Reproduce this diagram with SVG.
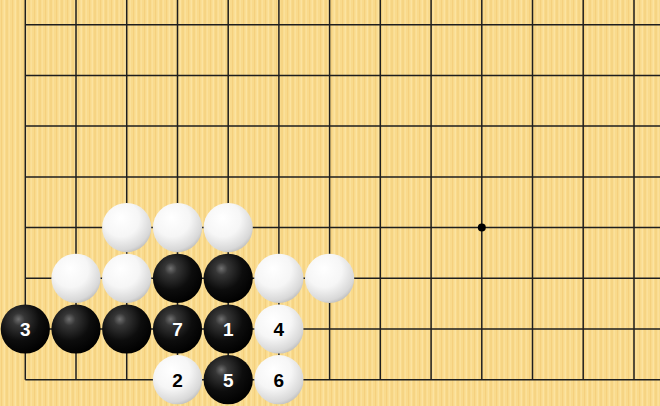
<svg xmlns="http://www.w3.org/2000/svg" width="660" height="406" viewBox="0 0 660 406">
<defs>
<pattern id="wood" x="0" y="0" width="11" height="406" patternUnits="userSpaceOnUse">
<rect width="11" height="406" fill="#F9DA8C"/>
<rect x="1" width="1" height="406" fill="#F5D07E"/>
<rect x="3.5" width="1.5" height="406" fill="#FCE3A0"/>
<rect x="6.5" width="1" height="406" fill="#F4CE7A"/>
<rect x="8.5" width="1.5" height="406" fill="#FBE09A"/>
</pattern>
<radialGradient id="gb" cx="0.38" cy="0.33" r="0.7" fx="0.36" fy="0.3">
<stop offset="0" stop-color="#707070"/>
<stop offset="0.18" stop-color="#363636"/>
<stop offset="0.6" stop-color="#0d0d0d"/>
<stop offset="1" stop-color="#000"/>
</radialGradient>
<radialGradient id="gw" cx="0.4" cy="0.35" r="0.72" fx="0.38" fy="0.3">
<stop offset="0" stop-color="#ffffff"/>
<stop offset="0.5" stop-color="#f6f6f6"/>
<stop offset="0.85" stop-color="#d8d8d8"/>
<stop offset="1" stop-color="#b4b4b4"/>
</radialGradient>
</defs>
<style>
.g line{stroke:#1e1e1e;stroke-width:1.5}
.b{fill:url(#gb)}
.w{fill:url(#gw)}
.t{font-family:"Liberation Sans",Arial,sans-serif;font-weight:bold;font-size:19px;text-anchor:middle}
.tb{fill:#fff}
.tw{fill:#000}
</style>
<rect width="660" height="406" fill="url(#wood)"/>
<g id="grid" class="g">
<line x1="25.3" y1="0" x2="25.3" y2="379.7"/>
<line x1="76" y1="0" x2="76" y2="379.7"/>
<line x1="126.7" y1="0" x2="126.7" y2="379.7"/>
<line x1="177.5" y1="0" x2="177.5" y2="379.7"/>
<line x1="228.2" y1="0" x2="228.2" y2="379.7"/>
<line x1="278.9" y1="0" x2="278.9" y2="379.7"/>
<line x1="329.6" y1="0" x2="329.6" y2="379.7"/>
<line x1="380.3" y1="0" x2="380.3" y2="379.7"/>
<line x1="431.1" y1="0" x2="431.1" y2="379.7"/>
<line x1="481.8" y1="0" x2="481.8" y2="379.7"/>
<line x1="532.5" y1="0" x2="532.5" y2="379.7"/>
<line x1="583.2" y1="0" x2="583.2" y2="379.7"/>
<line x1="634" y1="0" x2="634" y2="379.7"/>
<line x1="25.3" y1="24.7" x2="660" y2="24.7"/>
<line x1="25.3" y1="75.4" x2="660" y2="75.4"/>
<line x1="25.3" y1="126.1" x2="660" y2="126.1"/>
<line x1="25.3" y1="176.9" x2="660" y2="176.9"/>
<line x1="25.3" y1="227.6" x2="660" y2="227.6"/>
<line x1="25.3" y1="278.3" x2="660" y2="278.3"/>
<line x1="25.3" y1="329" x2="660" y2="329"/>
<line x1="25.3" y1="379.7" x2="660" y2="379.7"/>
<circle cx="481.8" cy="227.6" r="4" fill="#000"/>
</g>
<g id="stones">
<g id="w-c2r4"><circle class="w" cx="126.7" cy="227.6" r="24.6"/></g>
<g id="w-c3r4"><circle class="w" cx="177.5" cy="227.6" r="24.6"/></g>
<g id="w-c4r4"><circle class="w" cx="228.2" cy="227.6" r="24.6"/></g>
<g id="w-c1r5"><circle class="w" cx="76" cy="278.3" r="24.6"/></g>
<g id="w-c2r5"><circle class="w" cx="126.7" cy="278.3" r="24.6"/></g>
<g id="b-c3r5"><circle class="b" cx="177.5" cy="278.3" r="24.6"/></g>
<g id="b-c4r5"><circle class="b" cx="228.2" cy="278.3" r="24.6"/></g>
<g id="w-c5r5"><circle class="w" cx="278.9" cy="278.3" r="24.6"/></g>
<g id="w-c6r5"><circle class="w" cx="329.6" cy="278.3" r="24.6"/></g>
<g id="b-3"><circle class="b" cx="25.3" cy="329" r="24.6"/><text class="t tb" x="25.3" y="335.8">3</text></g>
<g id="b-c1r6"><circle class="b" cx="76" cy="329" r="24.6"/></g>
<g id="b-c2r6"><circle class="b" cx="126.7" cy="329" r="24.6"/></g>
<g id="b-7"><circle class="b" cx="177.5" cy="329" r="24.6"/><text class="t tb" x="177.5" y="335.8">7</text></g>
<g id="b-1"><circle class="b" cx="228.2" cy="329" r="24.6"/><text class="t tb" x="228.2" y="335.8">1</text></g>
<g id="w-4"><circle class="w" cx="278.9" cy="329" r="24.6"/><text class="t tw" x="278.9" y="335.8">4</text></g>
<g id="w-2"><circle class="w" cx="177.5" cy="379.7" r="24.6"/><text class="t tw" x="177.5" y="386.5">2</text></g>
<g id="b-5"><circle class="b" cx="228.2" cy="379.7" r="24.6"/><text class="t tb" x="228.2" y="386.5">5</text></g>
<g id="w-6"><circle class="w" cx="278.9" cy="379.7" r="24.6"/><text class="t tw" x="278.9" y="386.5">6</text></g>
</g>
</svg>
